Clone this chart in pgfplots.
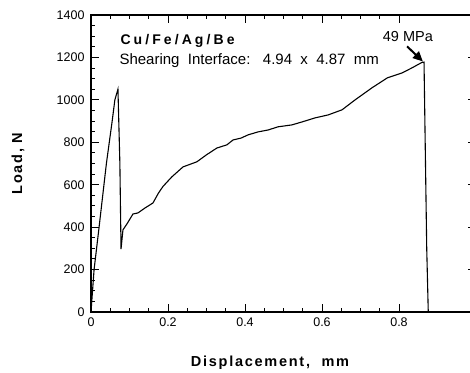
\documentclass[border=0pt]{standalone}
\usepackage{fontspec}
\setmainfont{Liberation Sans}
\usepackage{pgfplots}
\pgfplotsset{compat=1.18}
\usetikzlibrary{arrows.meta}
\newfontfamily\spacedbold[LetterSpace=22]{Liberation Sans Bold}
\newfontfamily\labbold[LetterSpace=12]{Liberation Sans Bold}
\begin{document}
\begin{tikzpicture}
\path[use as bounding box] (-91pt,-60pt) rectangle (379pt,312pt);
\begin{axis}[
  at={(0pt,0pt)}, anchor=south west,
  scale only axis, width=385pt, height=297pt,
  xmin=0, xmax=1, ymin=0, ymax=1400,
  xtick={0,0.2,0.4,0.6,0.8}, minor x tick num=3,
  ytick={0,200,...,1400}, minor y tick num=3,
  tick align=inside, major tick length=8pt, minor tick length=4pt,
  axis line style={line width=1.1pt},
  major tick style={line width=1pt, draw=black},
  minor tick style={line width=1pt, draw=black},
  /pgf/number format/assume math mode=true,
  /pgf/number format/1000 sep={},
  xticklabel style={font=\fontsize{12.5}{14}\selectfont, yshift=-2pt},
  yticklabel style={font=\fontsize{12.5}{14}\selectfont, xshift=-3pt},
  xticklabel={\pgfmathprintnumber[fixed,precision=1]{\tick}},
  scaled x ticks=false,
  xlabel={\labbold Displacement,\ \ mm},
  xlabel style={font=\fontsize{14.5}{16}\selectfont, at={(axis description cs:0.465,0)}, anchor=base, yshift=-54pt},
  ylabel={\labbold Load, N},
  ylabel style={font=\fontsize{14.5}{16}\selectfont, at={(axis description cs:0,0.5)}, anchor=center, yshift=73pt},
]
\addplot[black, line width=1.1pt] coordinates {
(0,0) (0.008,200) (0.021,400) (0.04,700) (0.055,900) (0.062,1000) (0.070,1050)
(0.075,700) (0.078,297) (0.083,387) (0.095,420) (0.109,462) (0.122,467) (0.14,490) (0.161,514)
(0.175,560) (0.187,592) (0.21,637) (0.239,684) (0.275,708) (0.30,741) (0.327,773)
(0.353,788) (0.369,811) (0.39,820) (0.408,835) (0.434,849) (0.46,858) (0.486,873)
(0.522,882) (0.55,897) (0.582,915) (0.616,929) (0.652,953) (0.686,1000) (0.73,1057)
(0.77,1104) (0.808,1127) (0.835,1152) (0.86,1177) (0.865,1178) (0.868,800) (0.872,300) (0.876,0)
};
\node[anchor=west, font=\spacedbold\fontsize{14}{16}\selectfont] at (axis cs:0.0675,1278) {Cu/Fe/Ag/Be};
\node[anchor=west, font=\fontsize{15}{17}\selectfont] at (axis cs:0.065,1183) {Shearing\ \ Interface:\ \ \ 4.94\ \ x\ \ 4.87\ \ mm};
\node[font=\fontsize{14.5}{16}\selectfont] at (axis cs:0.823,1297) {49 MPa};
\draw[-{Triangle[length=10pt,width=9pt]}, line width=2pt] (axis cs:0.821,1252) -- (axis cs:0.862,1181);
\end{axis}
\end{tikzpicture}
\end{document}
